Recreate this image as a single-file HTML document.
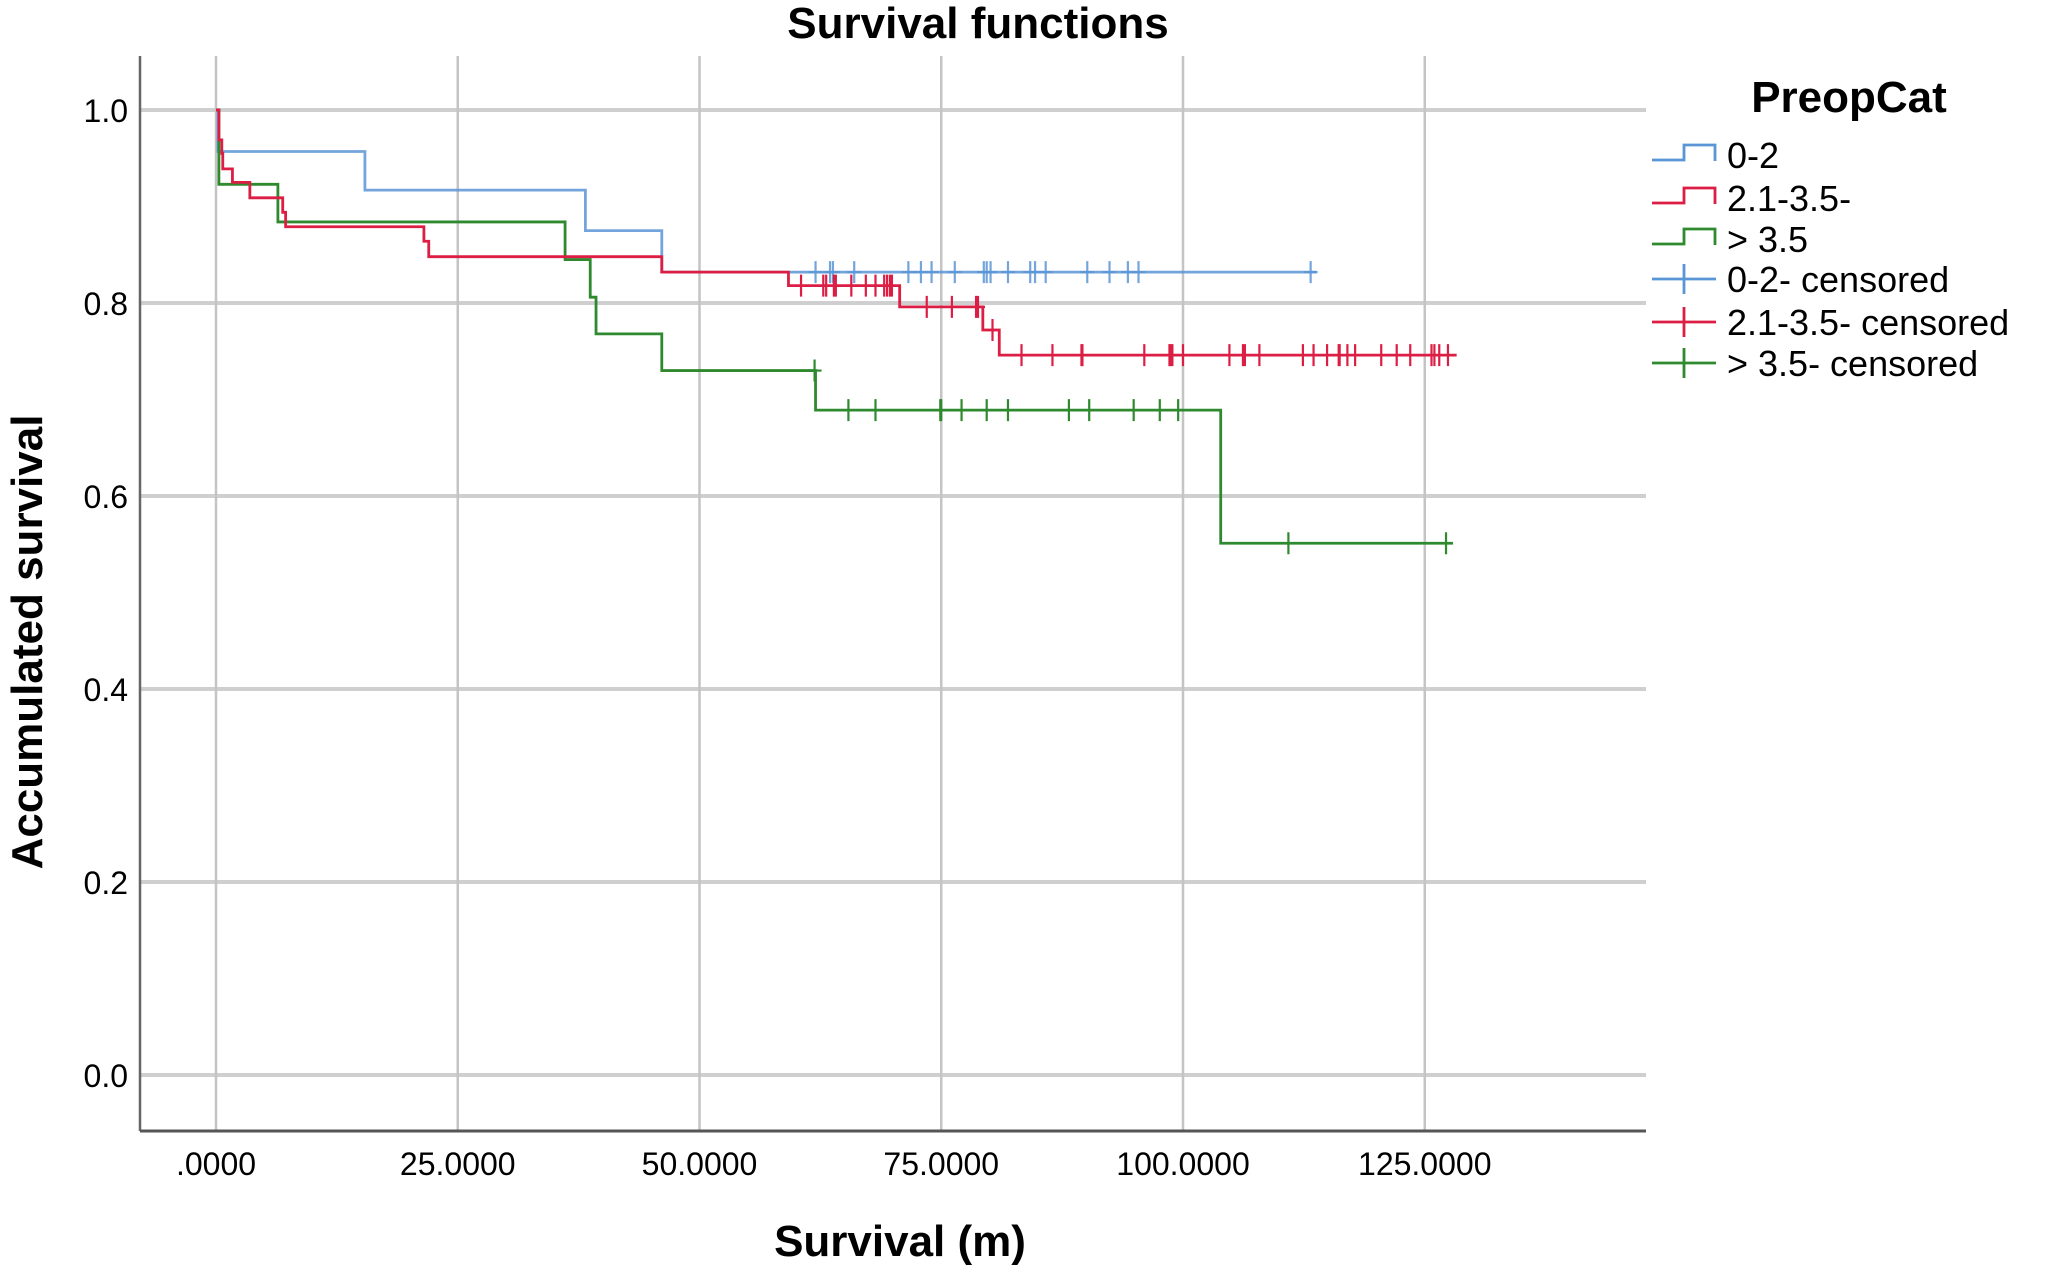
<!DOCTYPE html>
<html><head><meta charset="utf-8"><style>
body{margin:0;background:#fff;}
svg{display:block;font-family:"Liberation Sans",Arial,sans-serif;}
</style></head><body>
<svg id="chart" width="2050" height="1265" viewBox="0 0 2050 1265" xmlns="http://www.w3.org/2000/svg">
<text x="978" y="38" font-size="44" font-weight="bold" text-anchor="middle">Survival functions</text>
<g id="grid"></g>
<g id="axes"></g>
<g id="series"></g>
<text transform="translate(42,642) rotate(-90)" font-size="44" font-weight="bold" text-anchor="middle">Accumulated survival</text>
<text x="900" y="1256" font-size="44" font-weight="bold" text-anchor="middle">Survival (m)</text>
<g id="legend">
<text x="1849" y="112" font-size="44" font-weight="bold" text-anchor="middle">PreopCat</text>
</g>
</svg>
<script>
const xTicks=[0,25,50,75,100,125];
const xTickLabels=[".0000","25.0000","50.0000","75.0000","100.0000","125.0000"];
const yTicks=[0,0.2,0.4,0.6,0.8,1.0];
const yTickLabels=["0.0","0.2","0.4","0.6","0.8","1.0"];
const seriesNames=["0-2","2.1-3.5-","> 3.5"];
const blueTimes=[0,0.2,15.4,38.2,46.1,113.8];
const blueSurv=[1,0.957,0.917,0.875,0.832,0.832];
const blueCens=[62.0,63.5,63.8,66.0,71.6,72.9,74.0,76.4,79.4,79.7,80.1,81.9,84.2,84.7,85.8,90.1,92.4,94.3,95.4,113.2];
const redTimes=[0,0.3,0.6,0.7,1.7,3.5,6.9,7.2,21.5,22.0,46.1,59.2,70.7,79.3,81.0,128.3];
const redSurv=[1,0.969,0.955,0.939,0.925,0.909,0.894,0.879,0.864,0.848,0.832,0.818,0.796,0.772,0.746,0.746];
const redCens=[60.5,62.8,63.1,63.9,64.1,65.7,67.2,68.2,69.1,69.4,69.7,69.9,73.5,76.1,78.6,78.8,80.3,83.3,86.5,89.5,89.6,96.0,98.6,98.7,98.9,100.0,104.8,106.2,106.4,107.9,112.4,113.5,114.9,116.1,116.2,117.0,117.8,120.5,122.1,123.5,125.7,126.0,126.5,127.4];
const greenTimes=[0,0.3,6.4,36.1,38.7,39.3,46.1,62.0,103.9,127.9];
const greenSurv=[1,0.923,0.884,0.845,0.806,0.768,0.730,0.689,0.551,0.551];
const greenCens=[61.9,65.4,68.2,74.9,75.0,77.1,79.7,81.9,88.2,90.3,94.9,97.6,99.5,110.9,127.2];

const NS="http://www.w3.org/2000/svg";
const X=t=>216+9.67*t;
const Y=s=>1075-965*s;
const L=140,R=1646,T=56,B=1131;
function mk(tag,attrs,parent){const e=document.createElementNS(NS,tag);for(const k in attrs)e.setAttribute(k,attrs[k]);parent.appendChild(e);return e;}
const grid=document.getElementById('grid'),axes=document.getElementById('axes'),ser=document.getElementById('series'),leg=document.getElementById('legend');
yTicks.forEach((v,i)=>{
 const g=mk('line',{x1:L,x2:R,y1:Y(v),y2:Y(v),stroke:'#cfcfcf','stroke-width':4},grid);
 
 
 const t=mk('text',{x:128,y:Y(v)+12,'font-size':32,'text-anchor':'end'},axes);
 t.textContent=yTickLabels[i];
 
 
});
xTicks.forEach((v,i)=>{
 const g=mk('line',{x1:X(v),x2:X(v),y1:T,y2:B,stroke:'#c4c4c4','stroke-width':2.5},grid);
 
 
 const t=mk('text',{x:X(v),y:1175,'font-size':32,'text-anchor':'middle'},axes);
 t.textContent=xTickLabels[i];
 
 
});
const ya=mk('line',{x1:L,x2:L,y1:T,y2:B,stroke:'#666','stroke-width':2.5},axes);


const xa=mk('line',{x1:L,x2:R,y1:B,y2:B,stroke:'#555','stroke-width':3},axes);



const colors=['#5a95d6','#dc1e45','#2f8a2f'];
const allT=[blueTimes,redTimes,greenTimes],allS=[blueSurv,redSurv,greenSurv],allC=[blueCens,redCens,greenCens];
function survAt(ts,ss,t){let s=ss[0];for(let i=0;i<ts.length;i++){if(ts[i]<=t)s=ss[i];}return s;}
[0,2,1].forEach(k=>{
 const ts=allT[k],ss=allS[k];
 let d='M'+X(ts[0])+','+Y(ss[0]);
 for(let i=1;i<ts.length;i++){d+=' H'+X(ts[i])+' V'+Y(ss[i]);}
 const p=mk('path',{d:d,fill:'none',stroke:colors[k],'stroke-width':2.8,opacity:k==0?0.85:1},ser);
 
 
 allC[k].forEach(c=>{
  const s=survAt(ts,ss,c);
  const m=mk('path',{d:'M'+(X(c)-7)+','+Y(s)+' H'+(X(c)+7)+' M'+X(c)+','+(Y(s)-11)+' V'+(Y(s)+11),stroke:colors[k],'stroke-width':2.2,fill:'none',opacity:k==0?0.85:1},ser);
  
  
 });
});

const legY=[155,198,239,279,322,363];
const legLabels=["0-2","2.1-3.5-","> 3.5","0-2- censored","2.1-3.5- censored","> 3.5- censored"];
legLabels.forEach((lab,i)=>{
 const c=colors[i%3],y=legY[i];
 let sym;
 if(i<3){sym=mk('path',{d:'M1652,'+(y+5)+' H1684 V'+(y-10)+' H1715 V'+(y+6),fill:'none',stroke:c,'stroke-width':2.8},leg);}
 else{sym=mk('path',{d:'M1652,'+y+' H1716 M1684,'+(y-15)+' V'+(y+15),fill:'none',stroke:c,'stroke-width':2.8},leg);}
 
 
 const t=mk('text',{x:1727,y:y+13,'font-size':36},leg);
 t.textContent=lab;
 
 
});
</script>
</body></html>
